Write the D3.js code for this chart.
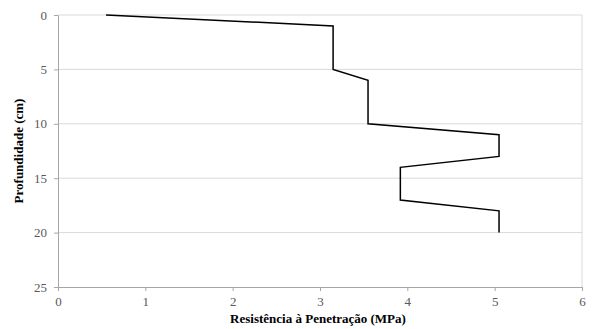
<!DOCTYPE html>
<html>
<head>
<meta charset="utf-8">
<script src="https://cdn.jsdelivr.net/npm/d3@7"></script>
<style>
  html, body { margin: 0; padding: 0; background: #fff; }
  svg { display: block; }
  svg text { font-family: "Liberation Serif", "DejaVu Serif", serif; }
</style>
</head>
<body>
<svg id="chart" width="592" height="329"></svg>
<script>
// Penetration resistance profile (MPa) by depth (cm)
const resistance = [0.55, 3.15, 3.15, 3.55, 3.55, 5.05, 5.05, 3.92, 3.92, 5.05, 5.05];
const depth      = [0,    1,    5,    6,    10,   11,   13,   14,   17,   18,   20];
const xTicks = [0, 1, 2, 3, 4, 5, 6];
const yTicks = [0, 5, 10, 15, 20, 25];
const xTitle = "Resistência à Penetração (MPa)";
const yTitle = "Profundidade (cm)";

(function () {
  const svg = d3.select("#chart");
  const plotLeft = 58, plotRight = 582, plotTop = 15, plotBottom = 287;
  const font = '"Liberation Serif", "DejaVu Serif", serif';

  const x = d3.scaleLinear().domain([0, 6]).range([plotLeft, plotRight]);
  const y = d3.scaleLinear().domain([0, 25]).range([plotTop, plotBottom]);

  // horizontal gridlines
  svg.append("g")
    .selectAll("line")
    .data(yTicks.slice(0, -1))
    .join("line")
    .attr("x1", plotLeft).attr("x2", plotRight)
    .attr("y1", d => y(d)).attr("y2", d => y(d))
    .attr("stroke", "#d9d9d9").attr("stroke-width", 1);

  // right frame edge
  svg.append("line")
    .attr("x1", plotRight).attr("x2", plotRight)
    .attr("y1", plotTop).attr("y2", plotBottom)
    .attr("stroke", "#d9d9d9");

  // x axis
  const gx = svg.append("g")
    .attr("transform", `translate(0,${plotBottom})`)
    .call(d3.axisBottom(x).tickValues(xTicks).tickFormat(d3.format("d"))
      .tickSize(4).tickSizeOuter(0).tickPadding(6));
  gx.attr("font-family", null);
  gx.select(".domain").attr("stroke", "#a6a6a6");
  gx.selectAll(".tick line").attr("stroke", "#a6a6a6");
  gx.selectAll("text").style("font-family", font).attr("font-size", 13).attr("fill", "#595959");

  // y axis
  const gy = svg.append("g")
    .attr("transform", `translate(${plotLeft},0)`)
    .call(d3.axisLeft(y).tickValues(yTicks).tickFormat(d3.format("d"))
      .tickSize(4).tickSizeOuter(0).tickPadding(7));
  gy.attr("font-family", null);
  gy.select(".domain").attr("stroke", "#a6a6a6");
  gy.selectAll(".tick line").attr("stroke", "#a6a6a6");
  gy.selectAll("text").style("font-family", font).attr("font-size", 13).attr("fill", "#595959");

  // profile line
  const pts = resistance.map((r, i) => [r, depth[i]]);
  svg.append("path")
    .datum(pts)
    .attr("fill", "none")
    .attr("stroke", "#000")
    .attr("stroke-width", 1.5)
    .attr("stroke-linejoin", "miter")
    .attr("d", d3.line().x(d => x(d[0])).y(d => y(d[1])));

  // axis titles
  svg.append("text")
    .attr("x", (plotLeft + plotRight) / 2 - 2).attr("y", 323)
    .attr("text-anchor", "middle")
    .style("font-family", font).attr("font-size", 13).attr("font-weight", "bold")
    .attr("fill", "#000")
    .text(xTitle);

  svg.append("text")
    .attr("transform", `translate(23,${(plotTop + plotBottom) / 2}) rotate(-90)`)
    .attr("text-anchor", "middle")
    .style("font-family", font).attr("font-size", 13).attr("font-weight", "bold")
    .attr("fill", "#000")
    .text(yTitle);
})();
</script>
</body>
</html>
